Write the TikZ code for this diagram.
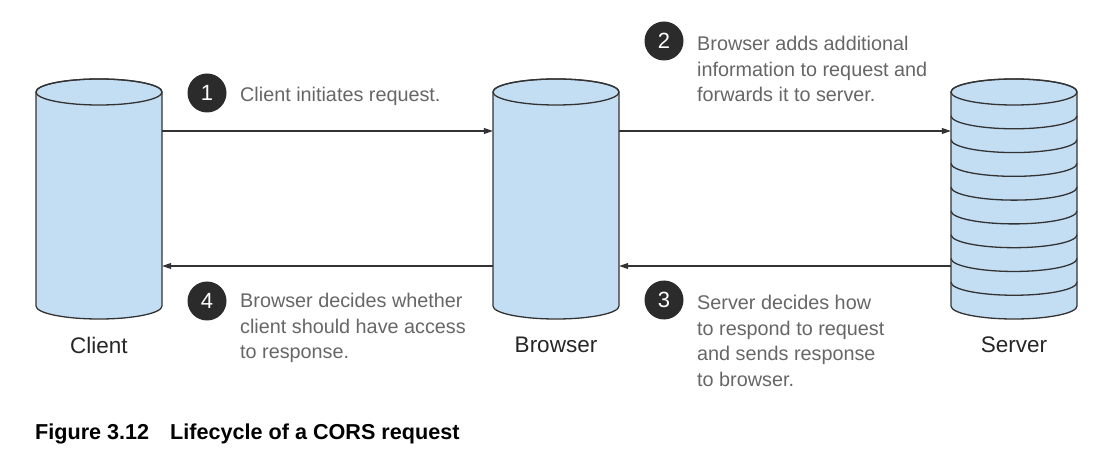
\documentclass[tikz,border=0pt]{standalone}
\usepackage{fontspec}
\setmainfont{Liberation Sans}
\usetikzlibrary{arrows.meta}
\definecolor{cylfill}{HTML}{C3DEF3}
\definecolor{strokec}{HTML}{333333}
\definecolor{notec}{HTML}{666666}
\definecolor{badgec}{HTML}{2B2B2B}
\tikzset{
  cylbox/.style={inner sep=0pt, minimum width=126pt, minimum height=214pt, draw=none},
  cylpath/.style={fill=cylfill, draw=strokec, line width=1.3pt},
  conn/.style={draw=strokec, line width=1.1pt, -{Triangle[length=9pt,width=6pt]}},
  badge/.style={circle, fill=badgec, minimum size=39pt, inner sep=0pt, text=white, font=\fontsize{22}{26}\selectfont},
  note/.style={anchor=west, align=left, inner sep=0pt, text=notec, font=\fontsize{19.8}{25.5}\selectfont},
  lbl/.style={text=black!85, font=\fontsize{22.5}{27}\selectfont},
}
\newcommand\drawcyl[1]{%
  \path[cylpath] ([xshift=-63pt,yshift=107pt]#1.center) -- ([xshift=-63pt,yshift=-107pt]#1.center)
    arc[start angle=180, end angle=360, x radius=63pt, y radius=13pt]
    -- ([xshift=63pt,yshift=107pt]#1.center)
    arc[start angle=0, end angle=180, x radius=63pt, y radius=13pt] -- cycle;
  \draw[strokec, line width=1.3pt] ([yshift=107pt]#1.center) ellipse[x radius=63pt, y radius=13pt];
}
\begin{document}
\begin{tikzpicture}[x=1pt,y=1pt]
\useasboundingbox (0,0) rectangle (1118,458);
\node[cylbox] (client) at (99,259) {};
\node[cylbox] (browser) at (556,259) {};
\node[cylbox] (server) at (1014,259) {};
\drawcyl{client}
\drawcyl{browser}
\drawcyl{server}
\foreach \k in {1,...,8} {
  \draw[strokec, line width=1.3pt] ([xshift=-63pt,yshift={107pt-23.78pt*\k}]server.center)
    arc[start angle=180, end angle=360, x radius=63pt, y radius=13pt];
}
\draw[conn] ([yshift=68pt]client.east) -- ([yshift=68pt]browser.west);
\draw[conn] ([yshift=68pt]browser.east) -- ([yshift=68pt]server.west);
\draw[conn] ([yshift=-67pt]server.west) -- ([yshift=-67pt]browser.east);
\draw[conn] ([yshift=-67pt]browser.west) -- ([yshift=-67pt]client.east);
\node[badge] (b1) at (207,365) {1};
\node[badge] (b2) at (664,417) {2};
\node[badge] (b3) at (664,158) {3};
\node[badge] (b4) at (207,157) {4};
\node[note] (n1) at (240,362) {Client initiates request.};
\node[note] (n2) at (697,389) {Browser adds additional\\information to request and\\forwards it to server.};
\node[note] (n3) at (697,117) {Server decides how\\to respond to request\\and sends response\\to browser.};
\node[note] (n4) at (240,130) {Browser decides whether\\client should have access\\to response.};
\node[lbl] (lc) at (99,113) {Client};
\node[lbl] (lb) at (556,113) {Browser};
\node[lbl] (ls) at (1014,113) {Server};
\node[anchor=base west, inner sep=0pt, font=\bfseries\fontsize{21.6}{26}\selectfont] (cap) at (35,19) {Figure 3.12\hspace{21pt}Lifecycle of a CORS request};
\end{tikzpicture}
\end{document}
